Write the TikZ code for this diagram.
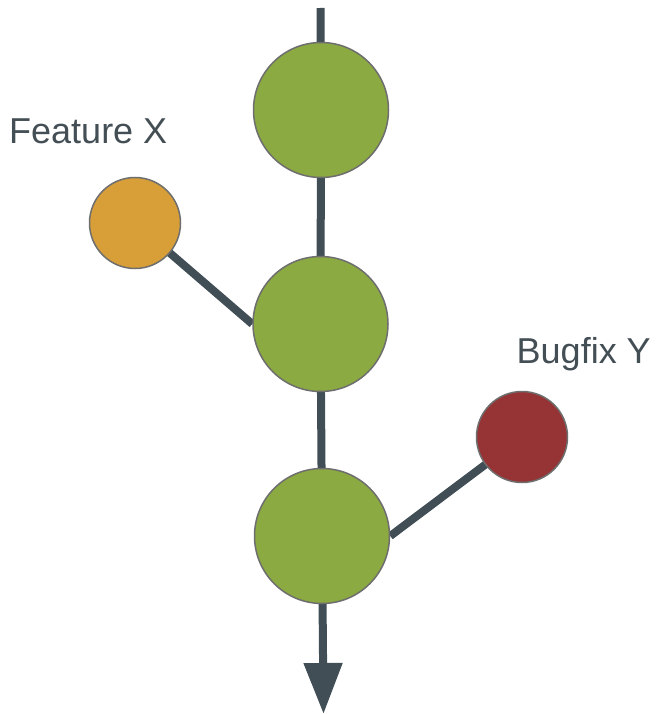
\documentclass[tikz,border=0pt]{standalone}
\usepackage{fontspec}
\setmainfont{Liberation Sans}
\usetikzlibrary{arrows.meta,backgrounds}
\definecolor{cgreen}{HTML}{8BAA41}
\definecolor{corange}{HTML}{D89F38}
\definecolor{cred}{HTML}{963334}
\definecolor{cline}{HTML}{414E56}
\definecolor{cborder}{HTML}{6E6E6E}
\definecolor{ctext}{HTML}{434E55}
\tikzset{
  commit/.style={circle, draw=cborder, line width=1.5pt, inner sep=0pt, minimum size=135pt, fill=cgreen},
  branch/.style={circle, draw=cborder, line width=1.5pt, inner sep=0pt, minimum size=91pt},
  conn/.style={draw=cline, line width=8pt},
  lbl/.style={inner sep=0pt, anchor=base west, text=ctext, font=\fontsize{36pt}{40pt}\selectfont}
}
\begin{document}
\begin{tikzpicture}[x=1pt,y=-1pt]
\useasboundingbox (0,0) rectangle (658,714);
\node[commit] (c1) at (321,110) {};
\node[commit] (c2) at (320.5,324) {};
\node[commit] (c3) at (322,536) {};
\node[branch, fill=corange] (fx) at (135,223) {};
\node[branch, fill=cred] (by) at (522,437) {};
\coordinate (top) at (320.5,8);
\coordinate (end) at (323.5,714);
\node[lbl] (lx) at (9,144) {Feature X};
\node[lbl] (ly) at (516.5,363) {Bugfix Y};
\begin{scope}[on background layer]
\draw[conn] (top) -- (c1.center);
\draw[conn] (c1.center) -- (c2.center);
\draw[conn] (c2.center) -- (c3.center);
\draw[conn] (fx.center) -- (c2.west);
\draw[conn] (by.center) -- (c3.east);
\draw[conn, -{Triangle[width=37pt,length=51pt]}] (c3.center) -- (end);
\end{scope}
\end{tikzpicture}
\end{document}
